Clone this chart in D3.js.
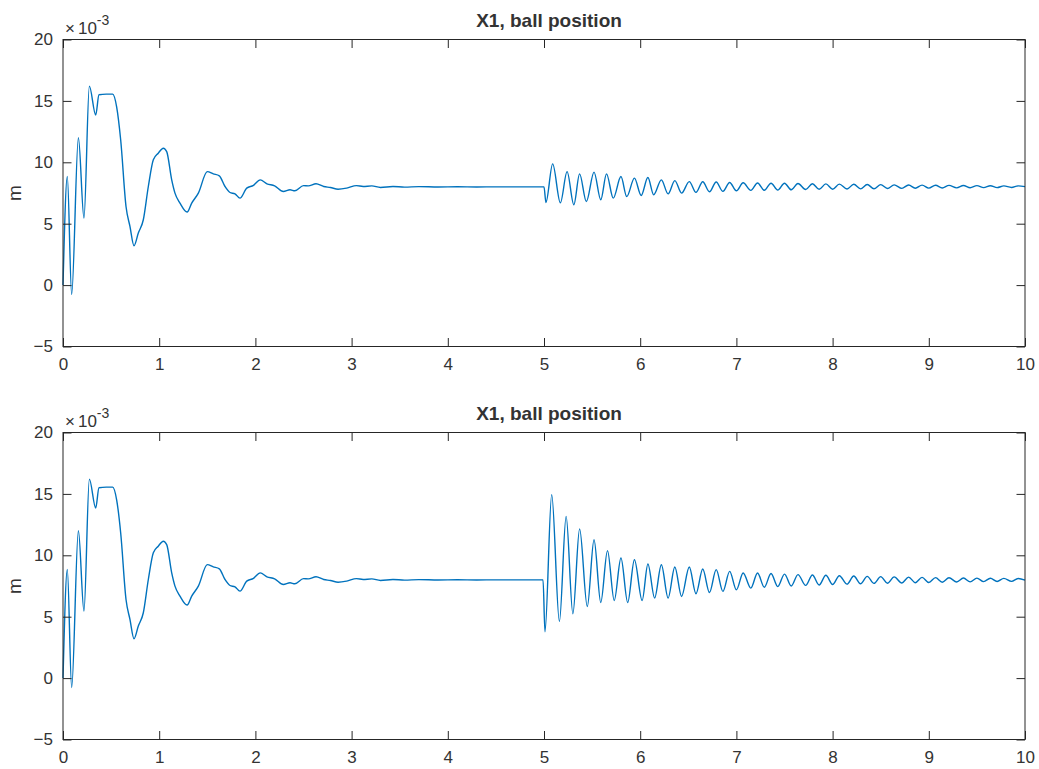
<!DOCTYPE html>
<html><head><meta charset="utf-8">
<script src="https://cdn.jsdelivr.net/npm/d3@7"></script>
<style>
body{margin:0;background:#fff}
svg{display:block}
text{font-family:"Liberation Sans",Arial,Helvetica,sans-serif;fill:#333}
</style>
</head><body>
<svg id="c" width="1039" height="769"></svg>
<script>
// ---- data (values in units of 1e-3 m) ----
const xTicks = [0,1,2,3,4,5,6,7,8,9,10];
const yTicks = [-5,0,5,10,15,20];
const yExponent = "-3";
const titles = ["X1, ball position", "X1, ball position"];
const yLabel = "m";

// shared start-up transient, 0..5 s
const transientT = [0,0.045,0.09,0.16,0.218,0.274,0.34,0.374,0.45,0.516,
  0.558,0.60,0.655,0.696,0.738,0.783,0.835,0.887,0.939,0.99,
  1.043,1.078,1.13,1.164,1.216,1.29,1.338,1.407,1.50,1.562,
  1.625,1.684,1.736,1.788,1.84,1.91,1.98,2.05,2.12,2.20,
  2.29,2.36,2.41,2.50,2.55,2.63,2.71,2.78,2.86,2.95,
  3.05,3.12,3.21,3.30,3.43,3.55,3.70,3.90,4.10,4.30,
  4.50,4.70,4.90,4.99];
const transientV = [0,8.84,-0.77,12.0,5.46,16.2,13.85,15.5,15.55,15.55,
  14.5,11.8,6.4,4.78,3.21,4.24,5.32,8.03,10.2,10.74,
  11.15,10.87,8.57,7.49,6.68,5.95,6.68,7.49,9.24,9.06,
  8.9,8.03,7.54,7.43,7.08,7.9,8.12,8.57,8.25,8.08,
  7.62,7.76,7.68,8.1,8.08,8.25,8.03,7.95,7.81,7.9,
  8.1,8.03,8.08,7.95,8.03,7.98,8.02,7.99,8.01,7.99,
  8.0,8.0,8.0,8.0];

// top panel, disturbance response 5..10 s
const topTailT = [5.0,5.02,
  5.09,5.17,5.24,5.31,5.37,5.44,5.52,5.59,5.65,5.72,
  5.80,5.86,5.94,6.01,6.08,6.14,6.22,6.29,6.36,6.43,
  6.51,6.58,6.65,6.72,6.79,6.86,6.93,7.00,7.07,7.15,
  7.22,7.29,7.36,7.43,7.50,7.57,7.64,7.72,7.79,7.86,
  7.93,8.00,8.07,8.15,8.22,8.29,8.36,8.43,8.50,8.57,
  8.64,8.72,8.79,8.86,8.93,9.00,9.07,9.14,9.21,9.29,
  9.36,9.43,9.50,9.57,9.64,9.71,9.78,9.86,9.93,10.0];
const topTailV = [8.0,6.73,
  9.87,6.70,9.24,6.54,9.06,6.81,9.20,6.95,9.06,7.08,
  8.84,7.21,8.71,7.30,8.76,7.35,8.57,7.43,8.51,7.49,
  8.43,7.55,8.42,7.60,8.40,7.63,8.36,7.68,8.33,7.71,
  8.32,7.72,8.30,7.74,8.30,7.76,8.27,7.78,8.25,7.80,
  8.24,7.81,8.22,7.83,8.21,7.84,8.19,7.85,8.18,7.87,
  8.16,7.88,8.15,7.89,8.14,7.90,8.13,7.91,8.12,7.92,
  8.11,7.93,8.10,7.94,8.09,7.94,8.08,7.95,8.08,8.02];

// bottom panel, disturbance response 5..10 s
const bottomTailT = [5.01,
  5.08,5.16,5.23,5.30,5.37,5.45,5.52,5.59,5.66,5.73,
  5.80,5.87,5.94,6.02,6.08,6.15,6.22,6.29,6.36,6.43,
  6.51,6.58,6.65,6.72,6.79,6.86,6.93,7.00,7.07,7.15,
  7.22,7.29,7.36,7.43,7.50,7.57,7.64,7.72,7.79,7.86,
  7.93,8.00,8.07,8.15,8.22,8.29,8.36,8.43,8.50,8.57,
  8.64,8.72,8.79,8.86,8.93,9.00,9.07,9.14,9.21,9.29,
  9.36,9.43,9.50,9.57,9.64,9.71,9.78,9.86,9.93,10.0];
const bottomTailV = [3.77,
  14.94,4.61,13.17,5.24,12.15,5.83,11.27,6.16,10.38,6.32,
  9.78,6.16,9.64,6.32,9.29,6.52,9.23,6.52,9.05,6.65,
  9.05,6.87,8.88,6.97,8.83,7.06,8.69,7.19,8.56,7.33,
  8.56,7.40,8.52,7.45,8.47,7.50,8.43,7.55,8.40,7.58,
  8.37,7.62,8.34,7.65,8.31,7.68,8.28,7.71,8.26,7.73,
  8.24,7.75,8.22,7.77,8.20,7.79,8.18,7.81,8.17,7.83,
  8.15,7.84,8.14,7.86,8.13,7.87,8.12,7.88,8.11,7.98];

// ---- drawing ----
const svg = d3.select("#c");
const left = 63, right = 1025;
const axisColor = "#262626";
const textColor = "#3a3a3a";
const lineColor = "#0072BD";
const tick = 8.5;

const panels = [
  {top: 39.5, bottom: 346.5, title: titles[0], t: transientT.concat(topTailT), v: transientV.concat(topTailV)},
  {top: 432.5, bottom: 739.5, title: titles[1], t: transientT.concat(bottomTailT), v: transientV.concat(bottomTailV)}
];

panels.forEach(p => {
  const x = d3.scaleLinear().domain([0, 10]).range([left, right]);
  const y = d3.scaleLinear().domain([-5, 20]).range([p.bottom, p.top]);
  const g = svg.append("g");

  const data = d3.zip(p.t, p.v);
  g.append("path").datum(data)
    .attr("fill", "none").attr("stroke", lineColor).attr("stroke-width", 1.4)
    .attr("stroke-linejoin", "round")
    .attr("d", d3.line().x(d => x(d[0])).y(d => y(d[1])).curve(d3.curveMonotoneX));

  const styleAxis = sel => {
    sel.attr("font-size", 17).attr("font-family", '"Liberation Sans",Arial,sans-serif');
    sel.select(".domain").remove();
    sel.selectAll(".tick line").attr("stroke", axisColor);
    sel.selectAll(".tick text").attr("fill", textColor).style("font-size", "17px");
  };

  g.append("g").attr("transform", `translate(0,${p.bottom})`)
    .call(d3.axisBottom(x).tickValues(xTicks).tickSizeInner(-tick).tickSizeOuter(0).tickPadding(11).tickFormat(d3.format("d")))
    .call(styleAxis);
  g.append("g").attr("transform", `translate(0,${p.top})`)
    .call(d3.axisTop(x).tickValues(xTicks).tickSizeInner(-tick).tickSizeOuter(0).tickFormat(""))
    .call(styleAxis);
  g.append("g").attr("transform", `translate(${left},0)`)
    .call(d3.axisLeft(y).tickValues(yTicks).tickSizeInner(-tick).tickSizeOuter(0).tickPadding(10).tickFormat(d3.format("d")))
    .call(styleAxis);
  g.append("g").attr("transform", `translate(${right},0)`)
    .call(d3.axisRight(y).tickValues(yTicks).tickSizeInner(-tick).tickSizeOuter(0).tickFormat(""))
    .call(styleAxis);

  g.append("rect").attr("x", left).attr("y", p.top)
    .attr("width", right - left).attr("height", p.bottom - p.top)
    .attr("fill", "none").attr("stroke", axisColor).attr("stroke-width", 1);

  g.append("text").attr("x", (left + right) / 2 + 5).attr("y", p.top - 13)
    .attr("text-anchor", "middle").attr("font-weight", "bold").style("font-size", "19px")
    .attr("fill", "#111").text(p.title);

  const ex = g.append("text").attr("x", left + 2).attr("y", p.top - 6).style("font-size", "17px").attr("fill", textColor);
  ex.append("tspan").text("\u00d7");
  ex.append("tspan").attr("dx", 3).text("10");
  ex.append("tspan").attr("dy", -9).style("font-size", "14px").text(yExponent);

  g.append("text").attr("transform", `translate(21,${(p.top + p.bottom) / 2}) rotate(-90)`)
    .attr("text-anchor", "middle").style("font-size", "19px").attr("fill", textColor).text(yLabel);
});
</script>
</body></html>
